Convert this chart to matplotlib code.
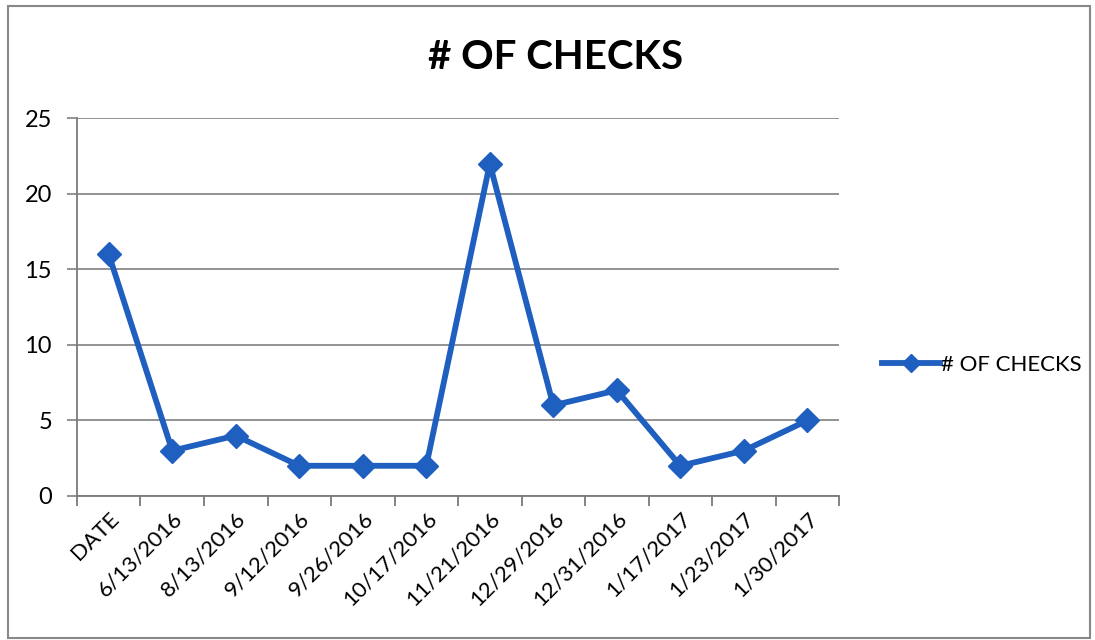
import matplotlib.pyplot as plt
from matplotlib.patches import Rectangle

plt.rcParams['font.family'] = ['Lato', 'DejaVu Sans']

dates = ['DATE', '6/13/2016', '8/13/2016', '9/12/2016', '9/26/2016', '10/17/2016',
         '11/21/2016', '12/29/2016', '12/31/2016', '1/17/2017', '1/23/2017', '1/30/2017']
checks = [16, 3, 4, 2, 2, 2, 22, 6, 7, 2, 3, 5]

fig = plt.figure(figsize=(10.95, 6.4), dpi=100)
# scanned chart frame
fig.patches.append(Rectangle((0.007, 0.003), 0.988, 0.988, transform=fig.transFigure,
                             fill=False, edgecolor='#888888', linewidth=1.5))

ax = fig.add_axes([0.0703, 0.225, 0.696, 0.59])
x = range(len(dates))
ax.plot(x, checks, color='#1f5fbf', linewidth=4.2, marker='D', markersize=12,
        label='# OF CHECKS')

ax.set_xlim(-0.5, len(dates) - 0.5)
ax.set_ylim(0, 25)
ax.set_yticks([0, 5, 10, 15, 20, 25])
ax.yaxis.grid(True, color='#8a8a8a', linewidth=1.3)
ax.set_axisbelow(True)

ax.set_xticks(x)
ax.set_xticklabels(dates, rotation=45, ha='right', rotation_mode='anchor', fontsize=16)
ax.set_xticks([i - 0.5 for i in range(len(dates) + 1)], minor=True)
ax.tick_params(axis='x', which='major', length=0, pad=9)
ax.tick_params(axis='x', which='minor', length=7, color='#7a7a7a', width=1.3)
ax.tick_params(axis='y', length=7, color='#8a8a8a', width=1.3, labelsize=17, pad=11)

for side in ['top', 'right']:
    ax.spines[side].set_visible(False)
for side in ['left', 'bottom']:
    ax.spines[side].set_color('#7a7a7a')
    ax.spines[side].set_linewidth(1.3)

fig.text(0.507, 0.91, '# OF CHECKS', ha='center', va='center', fontsize=29, fontweight='bold')

ax.legend(loc='center left', bbox_to_anchor=(1.03, 0.347), frameon=False, fontsize=16,
          handlelength=2.6, handletextpad=0.05, markerscale=0.75)

fig.savefig('out.png', dpi=100)
